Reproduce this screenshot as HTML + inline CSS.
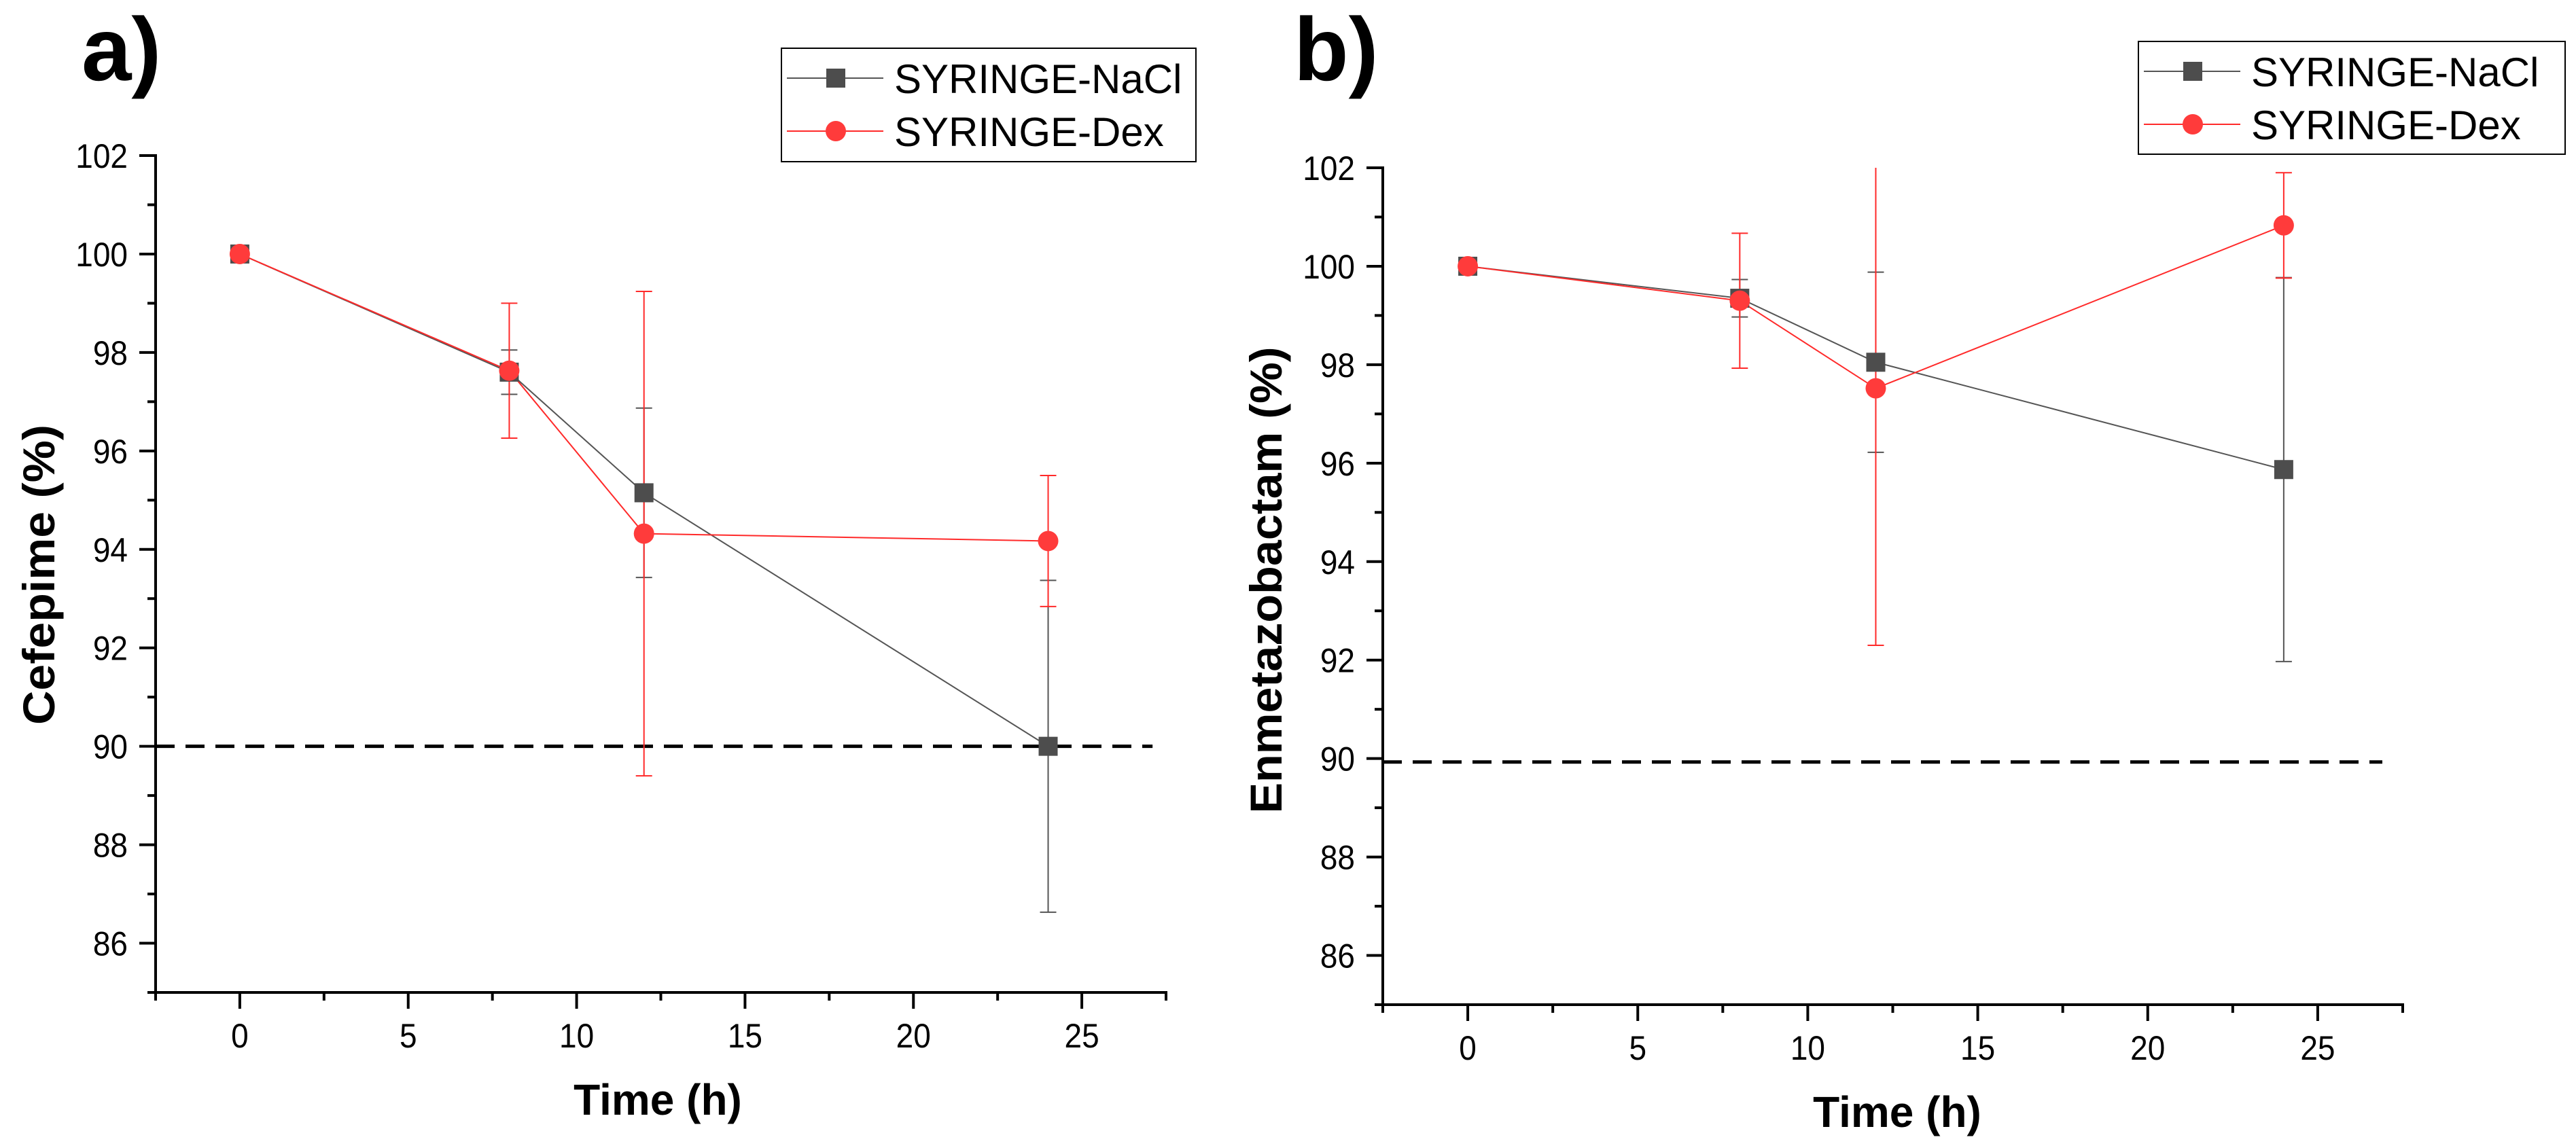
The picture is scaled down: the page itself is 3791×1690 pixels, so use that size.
<!DOCTYPE html>
<html><head><meta charset="utf-8"><style>
html,body{margin:0;padding:0;background:#fff;}
svg{display:block;font-family:"Liberation Sans",Arial,sans-serif;}
</style></head><body>
<svg id="fig" width="3791" height="1690" viewBox="0 0 3791 1690" xmlns="http://www.w3.org/2000/svg"></svg>
<script>
const timesA = [0, 8, 12, 24];
const naclA = [100, 97.6, 95.15, 90.0];
const naclErrA = [0, 0.45, 1.72, 3.37];
const dexA = [100, 97.63, 94.32, 94.17];
const dexErrA = [0, 1.37, 4.92, 1.33];
const limitA = 90.0;

const timesB = [0, 8, 12, 24];
const naclB = [100, 99.35, 98.05, 95.87];
const naclErrB = [0, 0.38, 1.83, 3.9];
const dexB = [100, 99.3, 97.52, 100.83];
const dexErrB = [0, 1.37, 5.22, 1.07];
const limitB = 89.93;

const xTicks = [0, 5, 10, 15, 20, 25];
const yTicks = [86, 88, 90, 92, 94, 96, 98, 100, 102];

const NS = 'http://www.w3.org/2000/svg';
const svg = document.getElementById('fig');
function mk(tag, attrs, parent) {
  const e = document.createElementNS(NS, tag);
  for (const k in attrs) e.setAttribute(k, attrs[k]);
  (parent || svg).appendChild(e);
  return e;
}

function panel(p) {
  const g = mk('g', {});
  
  
  const X = v => p.x0 + (v - (-2.5)) / 30 * (p.x1 - p.x0);
  const Y = v => p.y1 - (v - 85) / 17 * (p.y1 - p.y0);
  const clipY = v => Math.max(85, Math.min(102, v));

  const lt = mk('text', {x: p.letterX, y: 118, 'font-size': 132, 'font-weight': 'bold'}, g);
  lt.textContent = p.letter;
  
  

  const dl = mk('line', {x1: p.x0, x2: X(p.dashEnd), y1: Y(p.limit), y2: Y(p.limit), stroke: '#000', 'stroke-width': 5, 'stroke-dasharray': '28 16'}, g);
  
  

  const ax = mk('g', {stroke: '#000', 'stroke-width': 4, fill: 'none'}, g);
  
  
  mk('line', {x1: p.x0, x2: p.x0, y1: p.y0 - 2, y2: p.y1 + 2}, ax);
  mk('line', {x1: p.x0 - 2, x2: p.x1 + 2, y1: p.y1, y2: p.y1}, ax);
  for (let v = -2.5; v <= 27.51; v += 2.5) {
    const major = xTicks.includes(v);
    mk('line', {x1: X(v), x2: X(v), y1: p.y1, y2: p.y1 + (major ? 24 : 12)}, ax);
  }
  for (let v = 85; v <= 102; v += 1) {
    const major = yTicks.includes(v);
    mk('line', {x1: p.x0, x2: p.x0 - (major ? 24 : 12), y1: Y(v), y2: Y(v)}, ax);
  }
  xTicks.forEach(v => {
    const t = mk('text', {x: 0, y: 0, 'font-size': 50, 'text-anchor': 'middle', transform: `translate(${X(v)},${p.y1 + 81}) scale(0.92,1)`}, g);
    t.textContent = v;
    
    
  });
  yTicks.forEach(v => {
    const t = mk('text', {x: 0, y: 0, 'font-size': 50, 'text-anchor': 'end', transform: `translate(${p.x0 - 41},${Y(v) + 18}) scale(0.92,1)`}, g);
    t.textContent = v;
    
    
  });

  const xt = mk('text', {x: p.xTitleX, y: p.xTitleY, 'font-size': 64, 'font-weight': 'bold', 'text-anchor': 'middle'}, g);
  xt.textContent = 'Time (h)';
  
  
  const yt = mk('text', {x: 0, y: 0, 'font-size': 66, 'font-weight': 'bold', 'text-anchor': 'middle', transform: `translate(${p.yTitleX},${p.yTitleY}) rotate(-90)`, textLength: p.yTitleLen, lengthAdjust: 'spacingAndGlyphs'}, g);
  yt.textContent = p.yTitle;
  
  

  const series = [
    {name: 'nacl', vals: p.nacl, errs: p.naclErr, color: '#4d4d4d', line: '#555', shape: 'square'},
    {name: 'dex', vals: p.dex, errs: p.dexErr, color: '#ff3b3b', line: '#ff2a2a', shape: 'circle'}
  ];
  series.forEach(s => {
    const sg = mk('g', {}, g);
    
    
    const pts = p.times.map((t, i) => X(t) + ',' + Y(s.vals[i])).join(' ');
    mk('polyline', {points: pts, fill: 'none', stroke: s.line, 'stroke-width': 2}, sg);
    p.times.forEach((t, i) => {
      if (s.errs[i] > 0) {
        const hi = s.vals[i] + s.errs[i], lo = s.vals[i] - s.errs[i];
        const eb = mk('g', {stroke: s.line, 'stroke-width': 2}, sg);
        
        
        mk('line', {x1: X(t), x2: X(t), y1: Y(clipY(hi)), y2: Y(clipY(lo))}, eb);
        if (hi <= 102) mk('line', {x1: X(t) - 12, x2: X(t) + 12, y1: Y(hi), y2: Y(hi)}, eb);
        if (lo >= 85) mk('line', {x1: X(t) - 12, x2: X(t) + 12, y1: Y(lo), y2: Y(lo)}, eb);
      }
    });
  });
  series.forEach(s => {
    p.times.forEach((t, i) => {
      let m;
      if (s.shape === 'square') m = mk('rect', {x: X(t) - 14, y: Y(s.vals[i]) - 14, width: 28, height: 28, fill: s.color}, g);
      else m = mk('circle', {cx: X(t), cy: Y(s.vals[i]), r: 15, fill: s.color}, g);
      
      
    });
  });

  const lg = mk('g', {}, g);
  
  
  mk('rect', {x: p.lgX, y: p.lgY, width: p.lgW, height: p.lgH, fill: '#fff', stroke: '#000', 'stroke-width': 2}, lg);
  const rows = [{label: 'SYRINGE-NaCl', s: series[0]}, {label: 'SYRINGE-Dex', s: series[1]}];
  rows.forEach((r, i) => {
    const cy = p.lgY + 44 + i * 78;
    const le = mk('g', {}, lg);
    
    
    mk('line', {x1: p.lgX + 8, x2: p.lgX + 150, y1: cy, y2: cy, stroke: r.s.line, 'stroke-width': 2}, le);
    if (r.s.shape === 'square') mk('rect', {x: p.lgX + 66, y: cy - 14, width: 28, height: 28, fill: r.s.color}, le);
    else mk('circle', {cx: p.lgX + 80, cy: cy, r: 15, fill: r.s.color}, le);
    const tx = mk('text', {x: p.lgX + 166, y: cy + 22, 'font-size': 60}, le);
    tx.textContent = r.label;
  });
}

panel({id: 'cefepime', letter: 'a)', letterX: 120, x0: 229, x1: 1716, y0: 229, y1: 1461,
  times: timesA, nacl: naclA, naclErr: naclErrA, dex: dexA, dexErr: dexErrA, limit: limitA, dashEnd: 27.1,
  xTitleX: 968, xTitleY: 1641, yTitle: 'Cefepime (%)', yTitleX: 80, yTitleY: 846, yTitleLen: 442,
  lgX: 1150, lgY: 71, lgW: 610, lgH: 167});
panel({id: 'enmetazobactam', letter: 'b)', letterX: 1904, x0: 2035, x1: 3536, y0: 247, y1: 1479,
  times: timesB, nacl: naclB, naclErr: naclErrB, dex: dexB, dexErr: dexErrB, limit: limitB, dashEnd: 26.9,
  xTitleX: 2792, xTitleY: 1659, yTitle: 'Enmetazobactam (%)', yTitleX: 1886, yTitleY: 854, yTitleLen: 687,
  lgX: 3147, lgY: 61, lgW: 628, lgH: 166});
</script>
</body></html>
